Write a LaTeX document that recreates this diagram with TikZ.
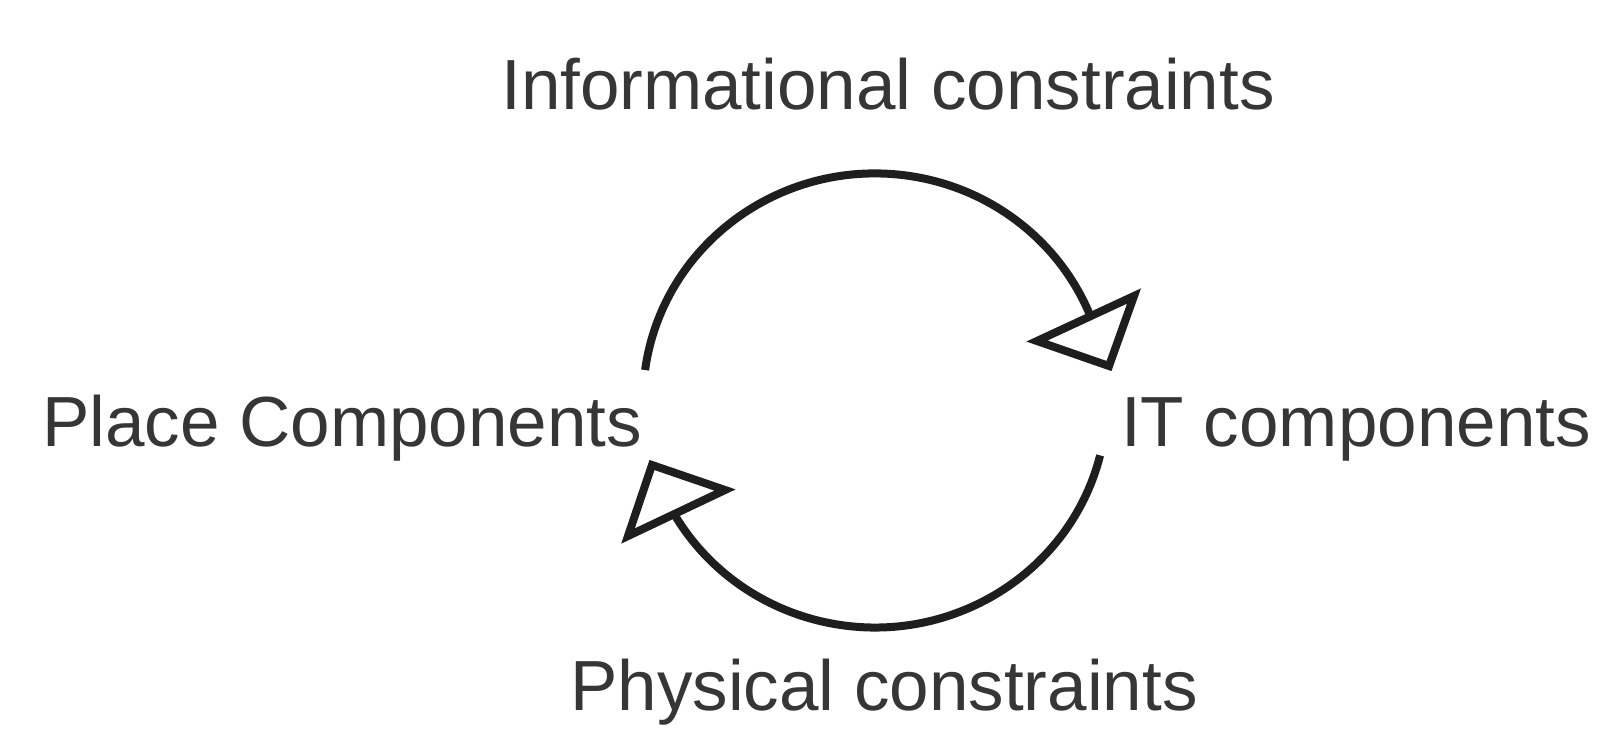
\documentclass[tikz,border=0pt]{standalone}
\usepackage{fontspec}
\setmainfont{Liberation Sans}
\definecolor{inkclr}{HTML}{363636}
\definecolor{lineclr}{HTML}{1E1E1E}
\begin{document}
\begin{tikzpicture}[x=1pt,y=-1pt,
  lbl/.style={anchor=base, inner sep=0pt, text=inkclr, font=\fontsize{71}{85}\selectfont},
  loopline/.style={draw=lineclr, line width=8pt},
  headtri/.style={draw=lineclr, line width=8pt, line join=miter, fill=white}]
\useasboundingbox[fill=white] (0,0) rectangle (1601,740);

% labels
\node[lbl] (info)  at (888,109)  {Informational constraints};
\node[lbl] (place) at (342,446)  {Place Components};
\node[lbl] (it)    at (1356,446) {IT components};
\node[lbl] (phys)  at (884,710)  {Physical constraints};

% loop: ellipse centred at (875,400.5), radii 232 x 227
\coordinate (topstart) at (645.1,370);
\coordinate (botstart) at (1100.1,455.4);

% arrow heads (open triangles): two base corners and the tip
\coordinate (tA) at (1134,296);
\coordinate (tB) at (1037,341);
\coordinate (tT) at (1109,366);
\coordinate (bA) at (725,490);
\coordinate (bB) at (628,536);
\coordinate (bT) at (652,465);

% upper arc: place -> IT, lower arc: IT -> place
\draw[loopline] (topstart) arc[start angle=-172.3, end angle=-22.5, x radius=232, y radius=227];
\draw[headtri] (tA) -- (tB) -- (tT) -- cycle;
\draw[loopline] (botstart) arc[start angle=14, end angle=149.5, x radius=232, y radius=227];
\draw[headtri] (bA) -- (bB) -- (bT) -- cycle;
\end{tikzpicture}
\end{document}
